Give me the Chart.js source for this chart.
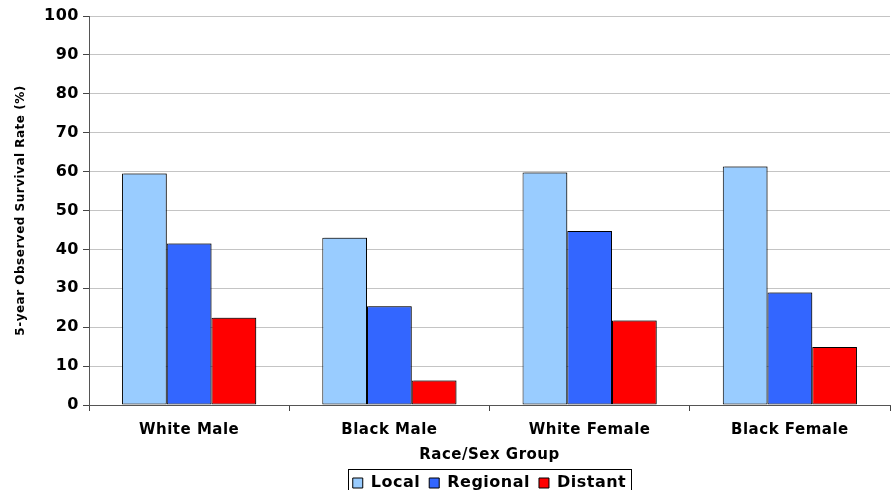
<!DOCTYPE html>
<html>
<head>
<meta charset="utf-8">
<script src="https://cdn.jsdelivr.net/npm/chart.js@4/dist/chart.umd.min.js"></script>
<style>
  html, body { margin: 0; padding: 0; background: #fff; overflow: hidden; }
  /* the chart runs a little past the bottom edge, legend frame is cut off */
  #wrap { width: 894px; height: 501px; }
</style>
</head>
<body>
<div id="wrap"><canvas id="survival"></canvas></div>
<script>
const groups = ["White Male", "Black Male", "White Female", "Black Female"];
const local = [59.5, 43.0, 59.8, 61.3];
const regional = [41.5, 25.4, 44.7, 28.9];
const distant = [22.4, 6.3, 21.7, 14.9];

const font = { family: "'DejaVu Sans', Verdana, sans-serif", weight: "bold" };

// slightly wider lettering everywhere
const spacing = {
  id: "spacing",
  beforeUpdate(chart) { chart.ctx.letterSpacing = "0.5px"; },
  beforeLayout(chart) { chart.ctx.letterSpacing = "0.5px"; },
  beforeDraw(chart) { chart.ctx.letterSpacing = "0.5px"; }
};

// centre the legend under the plot area instead of the whole canvas
const legendUnderPlot = {
  id: "legendUnderPlot",
  afterLayout(chart) {
    const lg = chart.legend;
    if (!lg) return;
    lg.left = chart.chartArea.left;
    lg.right = chart.chartArea.right;
  }
};

// box around the legend
const legendFrame = {
  id: "legendFrame",
  afterDraw(chart) {
    const items = chart.legend && chart.legend.legendHitBoxes;
    if (!items || !items.length) return;
    const ctx = chart.ctx;
    const first = items[0], last = items[items.length - 1];
    const x0 = first.left - 5, x1 = last.left + last.width + 4;
    const y0 = first.top - 6, y1 = first.top + first.height + 8;
    ctx.save();
    ctx.strokeStyle = "#000";
    ctx.lineWidth = 1;
    ctx.strokeRect(Math.round(x0) + 0.5, Math.round(y0) + 0.5, Math.round(x1 - x0), Math.round(y1 - y0));
    ctx.restore();
  }
};

// thin grey shadow behind the bars
const barShadow = {
  id: "barShadow",
  beforeDatasetsDraw(chart) {
    const ctx = chart.ctx;
    ctx.save();
    ctx.shadowColor = "rgba(0,0,0,0.3)";
    ctx.shadowOffsetX = 2;
    ctx.shadowOffsetY = -1;
    ctx.shadowBlur = 0;
  },
  afterDatasetsDraw(chart) {
    chart.ctx.restore();
  }
};

const ctx = document.getElementById("survival").getContext("2d");
const chart = new Chart(ctx, {
  type: "bar",
  data: {
    labels: groups,
    datasets: [
      { label: "Local", data: local, backgroundColor: "#99ccff" },
      { label: "Regional", data: regional, backgroundColor: "#3366ff" },
      { label: "Distant", data: distant, backgroundColor: "#ff0000" }
    ].map(d => Object.assign(d, { borderColor: "#000", borderWidth: 1, borderSkipped: false }))
  },
  options: {
    responsive: true,
    maintainAspectRatio: false,
    animation: false,
    categoryPercentage: 0.67,
    barPercentage: 1.0,
    layout: { padding: { top: 16, right: 4, left: 0, bottom: 0 } },
    plugins: {
      tooltip: { enabled: false },
      legend: {
        position: "bottom",
        labels: {
          color: "#000",
          font: Object.assign({ size: 16 }, font),
          boxWidth: 10,
          boxHeight: 10,
          padding: 9
        }
      }
    },
    scales: {
      x: {
        grid: {
          display: true,
          drawOnChartArea: false,
          offset: true,
          tickLength: 6,
          tickColor: "#444"
        },
        border: { color: "#555", width: 1 },
        ticks: {
          color: "#000",
          font: Object.assign({ size: 15 }, font),
          padding: 10
        },
        title: {
          display: true,
          text: "Race/Sex Group",
          color: "#000",
          font: Object.assign({ size: 15 }, font),
          padding: { top: -3, bottom: 2 }
        }
      },
      y: {
        min: 0,
        max: 100,
        afterFit(scale) { scale.width = 89; },
        ticks: {
          stepSize: 10,
          color: "#000",
          font: Object.assign({ size: 16 }, font),
          padding: 4
        },
        grid: {
          color: "#c4c4c4",
          tickColor: "#444",
          tickLength: 6
        },
        border: { color: "#555", width: 1 },
        title: {
          display: true,
          text: "5-year Observed Survival Rate (%)",
          color: "#000",
          font: Object.assign({ size: 12 }, font),
          padding: { top: 14, bottom: 0 }
        }
      }
    }
  },
  plugins: [spacing, legendUnderPlot, barShadow, legendFrame]
});
</script>
</body>
</html>
